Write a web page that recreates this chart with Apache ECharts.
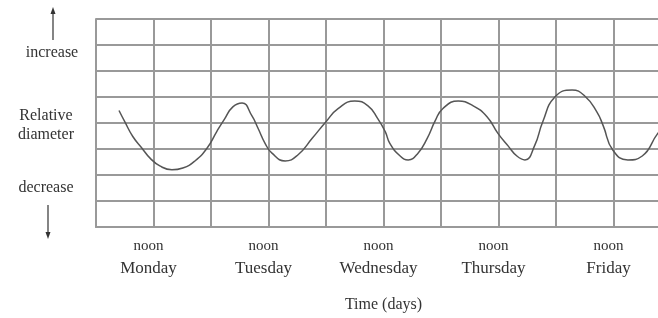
<!DOCTYPE html>
<html>
<head>
<meta charset="utf-8">
<script src="https://cdn.jsdelivr.net/npm/echarts@6/dist/echarts.min.js"></script>
<style>
  html, body { margin: 0; padding: 0; background: #fff; overflow: hidden; }
  /* the grid runs on past the right edge of the picture, so the chart is wider than the window */
  #chart { width: 680px; height: 318px; }
</style>
</head>
<body>
<div id="chart"></div>
<script>
// noon of each day sits on the odd grid lines
var noonTicks = [1, 3, 5, 7, 9];
var dayNames = ['Monday', 'Tuesday', 'Wednesday', 'Thursday', 'Friday'];

// relative diameter curve (x in grid columns, y in grid rows)
var curveX = [0.40, 0.50, 0.64, 0.80, 0.94, 1.11, 1.32, 1.51, 1.72, 1.93, 2.10, 2.24, 2.38,
  2.54, 2.71, 2.82, 2.94, 3.06, 3.29, 3.51, 3.76, 4.00, 4.21, 4.50, 4.73, 4.90, 5.03,
  5.11, 5.29, 5.43, 5.60, 5.76, 5.90, 6.03, 6.30, 6.56, 6.80, 6.99, 7.17, 7.32, 7.46,
  7.63, 7.77, 7.98, 8.28, 8.50, 8.71, 8.82, 8.99, 9.25, 9.50, 9.77, 10.0];
var curveY = [4.48, 4.05, 3.48, 3.03, 2.65, 2.35, 2.20, 2.27, 2.54, 3.03, 3.67, 4.17, 4.62,
  4.77, 4.28, 3.79, 3.22, 2.84, 2.54, 2.77, 3.41, 4.05, 4.55, 4.85, 4.66, 4.17, 3.67,
  3.22, 2.73, 2.58, 2.84, 3.41, 4.09, 4.55, 4.85, 4.66, 4.24, 3.60, 3.11, 2.73, 2.58,
  3.14, 4.05, 5.00, 5.27, 5.04, 4.43, 3.90, 2.95, 2.58, 2.73, 3.60, 4.17];

var font = 'Liberation Serif';
var gridColor = '#999';

var myChart = echarts.init(document.getElementById('chart'));

var points = curveX.map(function (x, i) { return [x, curveY[i]]; });

var option = {
  animation: false,
  grid: {
    left: 96,
    right: 9,
    top: 19,
    bottom: 87
  },
  xAxis: {
    type: 'value',
    min: 0,
    max: 10,
    interval: 1,
    name: 'Time (days)',
    nameLocation: 'middle',
    nameGap: 70,
    nameTextStyle: { fontFamily: font, fontSize: 16, color: '#333' },
    axisLine: { show: true, lineStyle: { color: gridColor, width: 2 } },
    axisTick: { show: false },
    splitLine: { show: true, lineStyle: { color: gridColor, width: 2 } },
    axisLabel: {
      margin: 8,
      fontFamily: font,
      color: '#333',
      padding: [0, 10, 0, 0],
      formatter: function (v) {
        var k = noonTicks.indexOf(v);
        if (k < 0) return '';
        return '{n|noon}\n{d|' + dayNames[k] + '}';
      },
      rich: {
        n: { fontFamily: font, fontSize: 15, color: '#333', lineHeight: 22 },
        d: { fontFamily: font, fontSize: 17, color: '#333', lineHeight: 24 }
      }
    }
  },
  yAxis: {
    type: 'value',
    min: 0,
    max: 8,
    interval: 1,
    axisLine: { show: true, lineStyle: { color: gridColor, width: 2 } },
    axisTick: { show: false },
    axisLabel: { show: false },
    splitLine: { show: true, lineStyle: { color: gridColor, width: 2 } }
  },
  series: [{
    type: 'line',
    data: points,
    smooth: 0.5,
    showSymbol: false,
    lineStyle: { color: '#555', width: 1.5 }
  }],
  graphic: [
    { type: 'text', x: 52, y: 53, style: { text: 'increase', fontFamily: font, fontSize: 16, fill: '#333', align: 'center', verticalAlign: 'middle' } },
    { type: 'text', x: 46, y: 125, style: { text: 'Relative\ndiameter', fontFamily: font, fontSize: 16, lineHeight: 19, fill: '#333', align: 'center', verticalAlign: 'middle' } },
    { type: 'text', x: 46, y: 188, style: { text: 'decrease', fontFamily: font, fontSize: 16, fill: '#333', align: 'center', verticalAlign: 'middle' } },
    // up arrow
    { type: 'line', shape: { x1: 53, y1: 40, x2: 53, y2: 12 }, style: { stroke: '#333', lineWidth: 1.2 } },
    { type: 'polygon', shape: { points: [[53, 7], [50.5, 14], [55.5, 14]] }, style: { fill: '#333' } },
    // down arrow
    { type: 'line', shape: { x1: 48, y1: 205, x2: 48, y2: 233 }, style: { stroke: '#333', lineWidth: 1.2 } },
    { type: 'polygon', shape: { points: [[48, 239], [45.5, 232], [50.5, 232]] }, style: { fill: '#333' } }
  ]
};

myChart.setOption(option);
</script>
</body>
</html>
